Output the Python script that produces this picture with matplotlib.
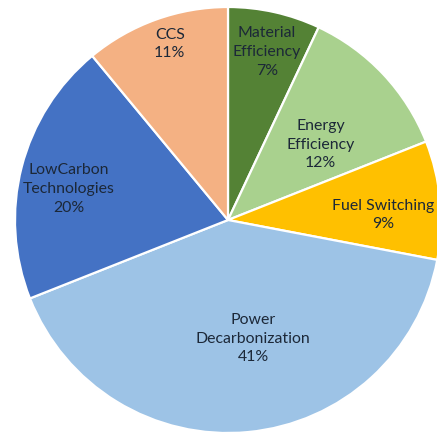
import matplotlib
matplotlib.use("Agg")
import matplotlib.pyplot as plt
import numpy as np

names = ["Material\nEfficiency", "Energy\nEfficiency", "Fuel Switching",
         "Power\nDecarbonization", "LowCarbon\nTechnologies", "CCS"]
shares = [7, 12, 9, 41, 20, 11]
colors = ["#548235", "#A9D18E", "#FFC000", "#9DC3E6", "#4472C4", "#F4B183"]
# radial distance of each label, as a fraction of the radius, and angle nudge
label_r = [0.81, 0.56, 0.73, 0.57, 0.76, 0.87]
label_da = [-0.5, -4, -3.6, 6.5, 3.4, -1.5]

plt.rcParams['font.family'] = ['Lato', 'DejaVu Sans']

fig = plt.figure(figsize=(4.37, 4.34), dpi=100)
ax = fig.add_axes([0, 0, 1, 1])
wedges, _ = ax.pie(shares, colors=colors, startangle=90, counterclock=False,
                   radius=1, wedgeprops=dict(edgecolor="white", linewidth=1.6))

for w, name, v, r, da in zip(wedges, names, shares, label_r, label_da):
    mid = np.deg2rad((w.theta1 + w.theta2) / 2 + da)
    ax.text(r * np.cos(mid), r * np.sin(mid), f"{name}\n{v}%",
            ha="center", va="center", fontsize=11.4, color="#1c2838",
            linespacing=1.42)

ax.set_xlim(-228 / 213, (437 - 228) / 213)
ax.set_ylim(-(434 - 220) / 213, 220 / 213)
ax.set_aspect("equal")
ax.axis("off")

fig.savefig("out.png", dpi=100)
